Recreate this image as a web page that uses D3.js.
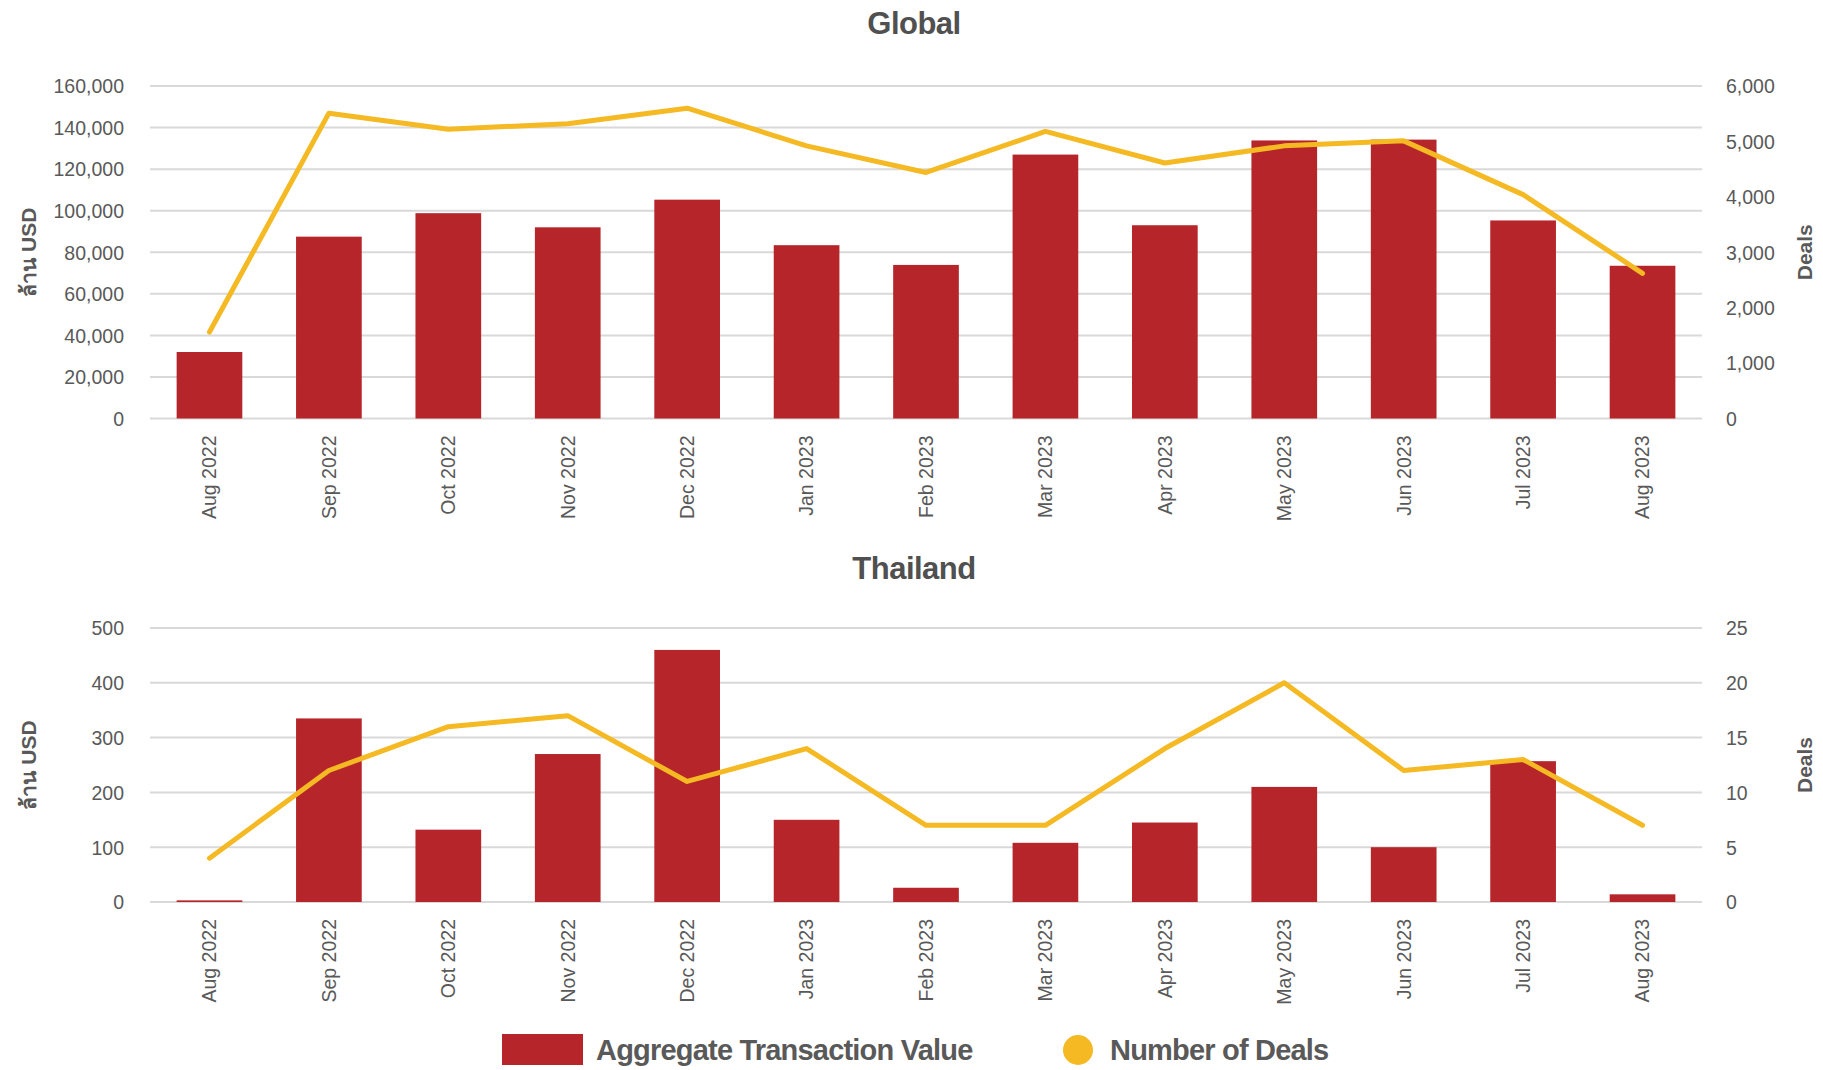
<!DOCTYPE html>
<html>
<head>
<meta charset="utf-8">
<script src="https://cdn.jsdelivr.net/npm/d3@7"></script>
<style>
  body { margin: 0; background: #fff; }
  text { font-family: "Liberation Sans", Arial, sans-serif; fill: #595959; }
</style>
</head>
<body>
<div id="chart"></div>
<script>
// months shared by both panels
var months = ['Aug 2022', 'Sep 2022', 'Oct 2022', 'Nov 2022', 'Dec 2022', 'Jan 2023', 'Feb 2023',
              'Mar 2023', 'Apr 2023', 'May 2023', 'Jun 2023', 'Jul 2023', 'Aug 2023'];

// Global: value in million USD, number of deals
var globalValue = [32000, 87500, 98800, 92000, 105300, 83400, 73900, 127000, 93000, 133800, 134200, 95300, 73500];
var globalDeals = [1560, 5510, 5220, 5320, 5600, 4920, 4440, 5180, 4610, 4920, 5010, 4040, 2620];

// Thailand
var thaiValue = [3, 335, 132, 270, 460, 150, 26, 108, 145, 210, 100, 257, 14];
var thaiDeals = [4, 12, 16, 17, 11, 14, 7, 7, 14, 20, 12, 13, 7];

var globalLeftTicks = [0, 20000, 40000, 60000, 80000, 100000, 120000, 140000, 160000];
var globalRightTicks = [0, 1000, 2000, 3000, 4000, 5000, 6000];
var thaiLeftTicks = [0, 100, 200, 300, 400, 500];
var thaiRightTicks = [0, 5, 10, 15, 20, 25];

var legendLabels = ['Aggregate Transaction Value', 'Number of Deals'];

var width = 1823,
    height = 1070,
    barColor = '#b5252a',
    lineColor = '#f4b923',
    gridColor = '#d9d9d9';

var svg = d3.select('#chart').append('svg')
  .attr('width', width)
  .attr('height', height);

function panel(opts) {
  var left = 150, right = 1702;
  var g = svg.append('g');

  var x = d3.scaleBand().domain(months).range([left, right]).paddingInner(0.45).paddingOuter(0.223);
  var yL = d3.scaleLinear().domain([0, opts.leftMax]).range([opts.bottom, opts.top]);
  var yR = d3.scaleLinear().domain([0, opts.rightMax]).range([opts.bottom, opts.top]);

  // title
  g.append('text')
    .attr('x', 914).attr('y', opts.titleY)
    .attr('text-anchor', 'middle')
    .style('font-size', '31px').style('font-weight', 'bold')
    .style('letter-spacing', '-0.5px')
    .style('fill', '#505050')
    .text(opts.title);

  // grid
  g.selectAll('.grid').data(opts.leftTicks).enter().append('line')
    .attr('x1', left).attr('x2', right)
    .attr('y1', function(d) { return yL(d); })
    .attr('y2', function(d) { return yL(d); })
    .style('stroke', gridColor).style('stroke-width', 2);

  // left axis
  var axL = g.append('g').attr('transform', 'translate(' + left + ',0)')
    .call(d3.axisLeft(yL).tickValues(opts.leftTicks).tickSize(0).tickPadding(26).tickFormat(d3.format(',')));
  axL.select('.domain').remove();
  axL.selectAll('text').style('font-size', '19.5px').style('fill', '#595959').attr('dy', '0.35em');

  var axR = g.append('g').attr('transform', 'translate(' + right + ',0)')
    .call(d3.axisRight(yR).tickValues(opts.rightTicks).tickSize(0).tickPadding(24).tickFormat(d3.format(',')));
  axR.select('.domain').remove();
  axR.selectAll('text').style('font-size', '19.5px').style('fill', '#595959').attr('dy', '0.35em');

  // bars
  g.selectAll('.bar').data(opts.values).enter().append('rect')
    .attr('x', function(d, i) { return x(months[i]); })
    .attr('width', x.bandwidth())
    .attr('y', function(d) { return yL(d); })
    .attr('height', function(d) { return opts.bottom - yL(d); })
    .style('fill', barColor);

  // deals line
  var line = d3.line()
    .x(function(d, i) { return x(months[i]) + x.bandwidth() / 2; })
    .y(function(d) { return yR(d); });
  g.append('path').datum(opts.deals)
    .attr('d', line)
    .style('fill', 'none').style('stroke', lineColor)
    .style('stroke-width', 5).style('stroke-linecap', 'round').style('stroke-linejoin', 'round');

  // x labels
  g.selectAll('.xl').data(months).enter().append('text')
    .attr('transform', function(d) {
      return 'translate(' + (x(d) + x.bandwidth() / 2) + ',' + (opts.bottom + 17) + ') rotate(-90)';
    })
    .attr('text-anchor', 'end').attr('dy', '0.35em')
    .style('font-size', '19.5px')
    .text(function(d) { return d; });

  // axis titles
  g.append('text')
    .attr('transform', 'translate(29,' + ((opts.top + opts.bottom) / 2) + ') rotate(-90)')
    .attr('text-anchor', 'middle').attr('dy', '0.35em')
    .style('font-size', '21px').style('font-weight', 'bold')
    .text('ล้าน USD');
  g.append('text')
    .attr('transform', 'translate(1805,' + ((opts.top + opts.bottom) / 2) + ') rotate(-90)')
    .attr('text-anchor', 'middle').attr('dy', '0.35em')
    .style('font-size', '21px').style('font-weight', 'bold')
    .text('Deals');
}

panel({title: 'Global', titleY: 34, top: 86, bottom: 418.5, leftMax: 160000, rightMax: 6000,
       leftTicks: globalLeftTicks, rightTicks: globalRightTicks, values: globalValue, deals: globalDeals});
panel({title: 'Thailand', titleY: 579, top: 628, bottom: 902, leftMax: 500, rightMax: 25,
       leftTicks: thaiLeftTicks, rightTicks: thaiRightTicks, values: thaiValue, deals: thaiDeals});

// legend
var legend = svg.append('g');
legend.append('rect')
  .attr('x', 502).attr('y', 1034).attr('width', 81).attr('height', 31)
  .style('fill', barColor);
legend.append('text')
  .attr('x', 596).attr('y', 1050).attr('dy', '0.35em')
  .style('font-size', '29px').style('font-weight', 'bold').style('letter-spacing', '-0.8px')
  .text(legendLabels[0]);
legend.append('circle')
  .attr('cx', 1078).attr('cy', 1050).attr('r', 15)
  .style('fill', lineColor);
legend.append('text')
  .attr('x', 1110).attr('y', 1050).attr('dy', '0.35em')
  .style('font-size', '29px').style('font-weight', 'bold').style('letter-spacing', '-0.8px')
  .text(legendLabels[1]);
</script>
</body>
</html>
